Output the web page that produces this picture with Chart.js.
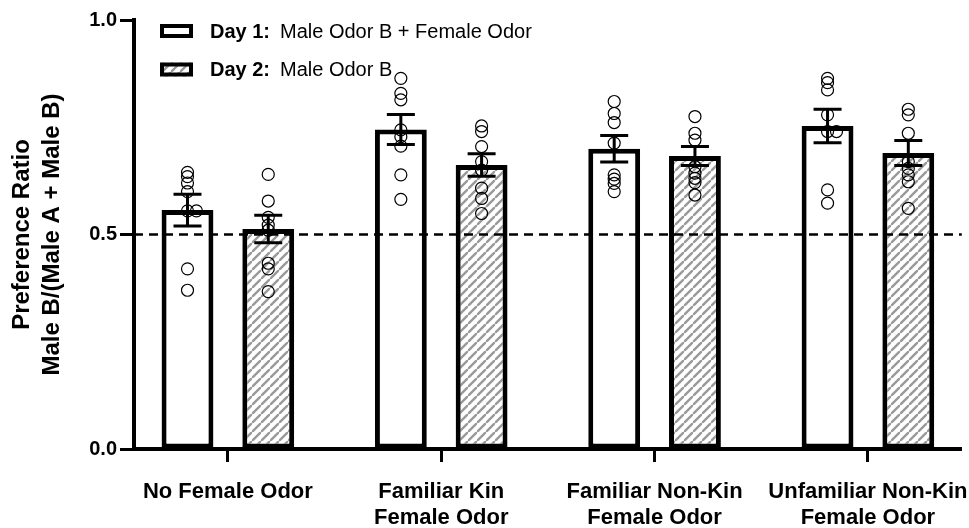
<!DOCTYPE html>
<html><head><meta charset="utf-8">
<script src="https://cdn.jsdelivr.net/npm/chart.js@4/dist/chart.umd.min.js"></script>
<style>html,body{margin:0;padding:0;background:#fff;overflow:hidden}</style>
</head><body>
<canvas id="c" width="969" height="528"></canvas>
<script>
// ---------- data ----------
const categories = [['No Female Odor'], ['Familiar Kin', 'Female Odor'], ['Familiar Non-Kin', 'Female Odor'], ['Unfamiliar Non-Kin', 'Female Odor']];
const seriesNames = ['Day 1:', 'Day 2:'];
const seriesDescs = ['Male Odor B + Female Odor', 'Male Odor B'];
const day1Mean = [0.557, 0.745, 0.700, 0.753];
const day1Sem  = [0.037, 0.035, 0.031, 0.039];
const day2Mean = [0.513, 0.662, 0.683, 0.690];
const day2Sem  = [0.032, 0.026, 0.022, 0.029];
const day1Points = [
  [0.645, 0.635, 0.620, 0.600, 0.555, 0.555, 0.420, 0.370],
  [0.864, 0.829, 0.814, 0.744, 0.728, 0.706, 0.639, 0.582],
  [0.810, 0.782, 0.761, 0.713, 0.639, 0.629, 0.619, 0.600],
  [0.864, 0.854, 0.837, 0.779, 0.740, 0.740, 0.604, 0.573]
];
const day2Points = [
  [0.640, 0.578, 0.540, 0.522, 0.510, 0.433, 0.420, 0.367],
  [0.753, 0.740, 0.705, 0.670, 0.650, 0.608, 0.584, 0.549],
  [0.775, 0.736, 0.720, 0.658, 0.643, 0.631, 0.621, 0.592],
  [0.792, 0.779, 0.736, 0.670, 0.654, 0.639, 0.623, 0.561]
];
const yTicks = [0, 0.5, 1.0];
const referenceLevel = 0.5;
const yTitle = ['Preference Ratio', 'Male B/(Male A + Male B)'];

// ---------- styling ----------
const FONT = '"Liberation Sans", Arial, Helvetica, sans-serif';
const CAT_PCT = 0.757, BAR_PCT = 0.642;
const sideOffset = CAT_PCT / 4;

function makeHatch() {
  const s = 9, c = document.createElement('canvas');
  c.width = s; c.height = s;
  const g = c.getContext('2d');
  g.fillStyle = '#fff'; g.fillRect(0, 0, s, s);
  g.strokeStyle = '#9a9a9a'; g.lineWidth = 2.4;
  g.beginPath();
  g.moveTo(-1, s + 1); g.lineTo(s + 1, -1);
  g.moveTo(-2, 1); g.lineTo(1, -2);
  g.moveTo(s - 1, s + 2); g.lineTo(s + 2, s - 1);
  g.stroke();
  return g.createPattern(c, 'repeat');
}
const hatch = makeHatch();

function barData(means) { return means.map((v, i) => ({x: i, y: v})); }
function dotData(groups, side) {
  const out = [];
  groups.forEach((vals, i) => {
    const placed = [];
    vals.forEach(v => {
      let dx = 0;
      while (placed.some(p => Math.abs(p.y - v) < 0.004 && Math.abs(p.dx - dx) < 0.01)) dx += 0.042;
      placed.push({y: v, dx});
      out.push({x: i + side * sideOffset + dx, y: v});
    });
  });
  return out;
}

const errorBars = {
  id: 'errorBars',
  afterDatasetsDraw(chart) {
    const ctx = chart.ctx, ys = chart.scales.y, area = chart.chartArea;
    ctx.save();
    ctx.strokeStyle = '#000'; ctx.lineWidth = 2.5; ctx.setLineDash([9, 6]);
    const yr = ys.getPixelForValue(referenceLevel);
    ctx.beginPath(); ctx.moveTo(area.left, yr); ctx.lineTo(area.right, yr); ctx.stroke();
    ctx.restore();
    const sems = [day1Sem, day2Sem], means = [day1Mean, day2Mean];
    ctx.save();
    ctx.strokeStyle = '#000'; ctx.lineWidth = 3; ctx.lineCap = 'butt';
    [0, 1].forEach(d => {
      const meta = chart.getDatasetMeta(d);
      meta.data.forEach((el, i) => {
        const x = el.x;
        const yt = ys.getPixelForValue(means[d][i] + sems[d][i]);
        const yb = ys.getPixelForValue(means[d][i] - sems[d][i]);
        ctx.beginPath();
        ctx.moveTo(x, yt); ctx.lineTo(x, yb);
        ctx.moveTo(x - 14, yt); ctx.lineTo(x + 14, yt);
        ctx.moveTo(x - 14, yb); ctx.lineTo(x + 14, yb);
        ctx.stroke();
      });
    });
    ctx.restore();
  }
};

const legendDraw = {
  id: 'legendDraw',
  afterDraw(chart) {
    const ctx = chart.ctx;
    ctx.save();
    [0, 1].forEach(i => {
      const cy = 31 + i * 38.5;
      ctx.fillStyle = i === 0 ? '#fff' : hatch;
      ctx.fillRect(160, cy - 7, 33, 14);
      ctx.strokeStyle = '#000'; ctx.lineWidth = 4;
      ctx.strokeRect(162, cy - 5, 29, 10);
      ctx.fillStyle = '#000'; ctx.textBaseline = 'middle'; ctx.textAlign = 'left';
      ctx.font = 'bold 20px ' + FONT;
      ctx.fillText(seriesNames[i], 210, cy + 1);
      const w = ctx.measureText(seriesNames[i]).width;
      ctx.font = '20px ' + FONT;
      ctx.fillText(seriesDescs[i], 210 + w + 10, cy + 1);
    });
    ctx.restore();
  }
};

new Chart(document.getElementById('c'), {
  type: 'bar',
  data: {
    datasets: [
      {label: 'Day 1', data: barData(day1Mean), backgroundColor: '#fff', borderColor: '#000', borderWidth: 5, borderSkipped: false, order: 2, categoryPercentage: CAT_PCT, barPercentage: BAR_PCT},
      {label: 'Day 2', data: barData(day2Mean), backgroundColor: hatch, borderColor: '#000', borderWidth: 5, borderSkipped: false, order: 2, categoryPercentage: CAT_PCT, barPercentage: BAR_PCT},
      {type: 'scatter', label: 'Day 1 animals', data: dotData(day1Points, -1), pointRadius: 6, pointBorderWidth: 1.2, borderColor: '#000', backgroundColor: 'rgba(0,0,0,0)', order: 1},
      {type: 'scatter', label: 'Day 2 animals', data: dotData(day2Points, 1), pointRadius: 6, pointBorderWidth: 1.2, borderColor: '#000', backgroundColor: 'rgba(0,0,0,0)', order: 1}
    ]
  },
  options: {
    responsive: false, animation: false, devicePixelRatio: 1,
    layout: {padding: {top: 20, right: 4, left: 0, bottom: 0}},
    plugins: {legend: {display: false}, tooltip: {enabled: false}},
    scales: {
      x: {
        type: 'linear', min: -0.44, max: 3.44, offset: false,
        afterBuildTicks: s => { s.ticks = categories.map((_, i) => ({value: i})); },
        afterFit: s => { s.height = 79; s.paddingLeft = 0; s.paddingRight = 0; },
        ticks: {callback: v => categories[v], autoSkip: false, maxRotation: 0, minRotation: 0, padding: 17, color: '#000',
                font: {family: FONT, size: 22, weight: 'bold', lineHeight: 1.18}},
        grid: {offset: false, drawOnChartArea: false, drawTicks: true, tickLength: 13, tickWidth: 3, tickColor: '#000'},
        border: {display: true, color: '#000', width: 4}
      },
      y: {
        min: 0, max: 1,
        afterBuildTicks: s => { s.ticks = yTicks.map(v => ({value: v})); },
        afterFit: s => { s.width = 134; s.paddingTop = 0; s.paddingBottom = 0; },
        ticks: {callback: v => v.toFixed(1), padding: 3, color: '#000', font: {family: FONT, size: 20, weight: 'bold'}},
        grid: {drawOnChartArea: false, drawTicks: true, tickLength: 14, tickWidth: 3, tickColor: '#000'},
        border: {display: true, color: '#000', width: 4},
        title: {display: true, text: yTitle, color: '#000', padding: {top: 7.5, bottom: 0}, font: {family: FONT, size: 24, weight: 'bold', lineHeight: 1.25}}
      }
    }
  },
  plugins: [errorBars, legendDraw]
});
</script>
</body></html>
